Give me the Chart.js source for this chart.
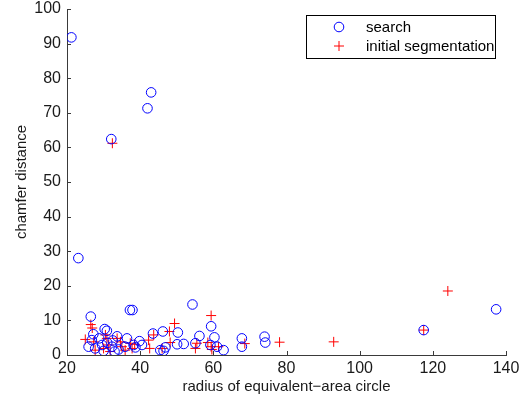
<!DOCTYPE html>
<html>
<head>
<meta charset="utf-8">
<script src="https://cdn.jsdelivr.net/npm/chart.js@4"></script>
<style>
    html, body { margin: 0; padding: 0; background: #fff; }
    #wrap { width: 521px; height: 398px; }
</style>
</head>
<body>
<div id="wrap"><canvas id="chart" width="521" height="398"></canvas></div>
<script>
// ─── Data ─────────────────────────────────────────────

const SERIES_NAMES = ['search', 'initial segmentation'];

const searchX = [
    21.2, 23.1, 43.0, 42.0, 32.1, 26.5, 37.2, 37.9, 54.3, 59.4,
    117.5, 137.3, 27.2, 30.3, 30.9, 28.8, 33.7, 36.4, 39.8, 43.5,
    46.2, 50.3, 46.4, 46.9, 50.1, 51.9, 55.1, 56.2, 60.3, 59.2,
    61.0, 62.8, 67.8, 67.8, 74.0, 74.2, 25.9, 27.7, 29.6, 32.3,
    34.1, 35.9, 38.2, 38.7, 26.8, 31.0, 32.5, 30.0, 33.0, 45.5,
    40.5,
];
const searchY = [
    91.8, 28.0, 75.9, 71.3, 62.4, 11.1, 13.0, 13.0, 14.6, 8.3,
    7.2, 13.2, 6.0, 7.5, 7.0, 4.8, 5.4, 4.8, 4.0, 6.2,
    6.8, 6.5, 1.2, 2.2, 3.1, 3.2, 3.4, 5.5, 5.1, 2.9,
    2.4, 1.4, 4.8, 2.4, 5.3, 3.6, 2.4, 1.9, 2.9, 2.4,
    1.6, 2.4, 2.9, 2.2, 4.3, 3.5, 4.2, 1.2, 1.0, 1.4,
    2.9,
];

const initX = [
    32.4, 59.4, 124.1, 117.5, 92.9, 26.5, 26.9, 25.0, 27.3, 30.5,
    30.9, 27.7, 30.0, 31.4, 31.8, 33.7, 34.6, 35.0, 35.9, 37.3,
    37.8, 38.5, 42.3, 42.6, 43.7, 46.0, 48.0, 49.4, 48.2, 55.5,
    55.1, 58.5, 59.4, 59.6, 61.4, 68.6, 78.1,
];
const initY = [
    61.2, 11.4, 18.5, 7.2, 3.8, 8.8, 7.8, 4.5, 3.8, 5.8,
    4.8, 1.4, 1.9, 2.9, 1.0, 4.8, 3.8, 2.4, 1.4, 3.4,
    1.9, 3.1, 4.3, 1.9, 5.8, 1.9, 6.8, 9.1, 3.6, 3.4,
    1.9, 3.6, 2.4, 1.6, 2.4, 3.3, 3.7,
];

const xTicks = [20, 40, 60, 80, 100, 120, 140];
const yTicks = [0, 10, 20, 30, 40, 50, 60, 70, 80, 90, 100];

const X_TITLE = 'radius of equivalent\u2212area circle';
const Y_TITLE = 'chamfer distance';

// ─── Style ────────────────────────────────────────────

const FONT   = "'Liberation Sans', Arial, Helvetica, sans-serif";
const AXIS   = '#3a3a3a';
const TEXT   = '#1a1a1a';
const BLUE   = '#0000ff';
const RED    = '#ff0000';

// plot box in canvas pixels, as measured on the reference
const PLOT = { top: 9, bottom: 355 };

const toPoints = (xs, ys) => xs.map((x, i) => ({ x, y: ys[i] }));

// ─── Plugins ──────────────────────────────────────────

// MATLAB-style inward tick marks
const inwardTicks = {
    id: 'inwardTicks',
    afterDraw(chart) {
        const { ctx, chartArea: a, scales: { x, y } } = chart;
        ctx.save();
        ctx.strokeStyle = AXIS;
        ctx.lineWidth = 1;
        ctx.beginPath();
        xTicks.forEach(v => {
            const px = Math.round(x.getPixelForValue(v)) + 0.5;
            ctx.moveTo(px, a.bottom);
            ctx.lineTo(px, a.bottom - 4);
        });
        yTicks.forEach(v => {
            const py = Math.round(y.getPixelForValue(v)) + 0.5;
            ctx.moveTo(a.left, py);
            ctx.lineTo(a.left + 4, py);
        });
        ctx.stroke();
        ctx.restore();
    },
};

// Boxed legend inside the plot, top right
const boxLegend = {
    id: 'boxLegend',
    afterDraw(chart) {
        const { ctx, chartArea: a } = chart;
        const w = 189, h = 43;
        const left = a.right - 11 - w;
        const top  = a.top + 6;
        ctx.save();
        ctx.fillStyle = '#fff';
        ctx.fillRect(left, top, w, h);
        ctx.strokeStyle = '#000';
        ctx.lineWidth = 1;
        ctx.strokeRect(Math.round(left) + 0.5, Math.round(top) + 0.5, w, h);

        ctx.font = `15px ${FONT}`;
        ctx.textBaseline = 'middle';
        ctx.fillStyle = '#000';
        chart.data.datasets.forEach((ds, i) => {
            const cy = top + 12 + i * 19;
            const mx = left + 33;
            ctx.strokeStyle = ds.borderColor;
            ctx.lineWidth = 1;
            ctx.beginPath();
            if (ds.pointStyle === 'circle') {
                ctx.arc(mx, cy, 4.8, 0, Math.PI * 2);
            } else {
                ctx.moveTo(mx - 5, cy); ctx.lineTo(mx + 5, cy);
                ctx.moveTo(mx, cy - 5); ctx.lineTo(mx, cy + 5);
            }
            ctx.stroke();
            ctx.fillText(ds.label, left + 60, cy + 1);
        });
        ctx.restore();
    },
};

// ─── Chart ────────────────────────────────────────────

new Chart(document.getElementById('chart').getContext('2d'), {
    type: 'scatter',
    data: {
        datasets: [
            {
                label: SERIES_NAMES[0],
                data: toPoints(searchX, searchY),
                pointStyle: 'circle',
                pointRadius: 4.8,
                borderColor: BLUE,
                backgroundColor: 'transparent',
                pointBorderWidth: 1,
            },
            {
                label: SERIES_NAMES[1],
                data: toPoints(initX, initY),
                pointStyle: 'cross',
                pointRadius: 5,
                borderColor: RED,
                backgroundColor: RED,
                pointBorderWidth: 1,
            },
        ],
    },
    options: {
        responsive: false,
        animation: false,
        layout: { padding: { top: 0, right: 15, bottom: 0, left: 0 } },
        plugins: {
            legend:  { display: false },
            tooltip: { enabled: false },
        },
        scales: {
            x: {
                type: 'linear',
                min: 20,
                max: 140,
                afterFit: s => { s.height = 398 - PLOT.bottom; s.paddingLeft = 0; s.paddingRight = 0; },
                afterBuildTicks: s => { s.ticks = xTicks.map(v => ({ value: v })); },
                grid:   { display: false, drawTicks: false },
                border: { display: true, color: AXIS, width: 1 },
                ticks:  { color: TEXT, padding: 4, maxRotation: 0, font: { family: FONT, size: 16 } },
                title:  {
                    display: true,
                    text: X_TITLE,
                    color: TEXT,
                    font: { family: FONT, size: 15 },
                    padding: { top: 0, bottom: 2 },
                },
            },
            y: {
                type: 'linear',
                min: 0,
                max: 100,
                afterFit: s => { s.width = 67; s.paddingTop = PLOT.top; s.paddingBottom = 0; },
                afterBuildTicks: s => { s.ticks = yTicks.map(v => ({ value: v })); },
                grid:   { display: false, drawTicks: false },
                border: { display: true, color: AXIS, width: 1 },
                ticks:  { color: TEXT, padding: 6, font: { family: FONT, size: 16 } },
                title:  {
                    display: true,
                    text: Y_TITLE,
                    color: TEXT,
                    font: { family: FONT, size: 15 },
                    padding: { top: 13, bottom: 0 },
                },
            },
        },
    },
    plugins: [inwardTicks, boxLegend],
});
</script>
</body>
</html>
